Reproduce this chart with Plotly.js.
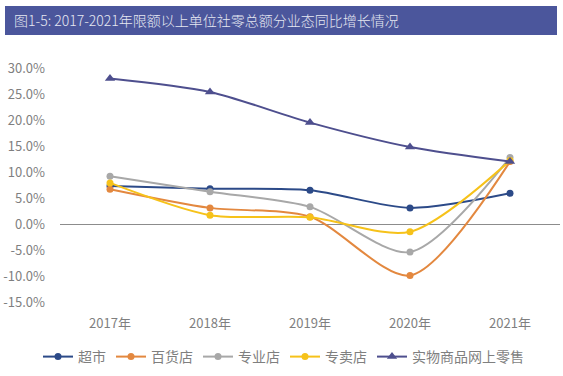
<!DOCTYPE html>
<html>
<head>
<meta charset="utf-8">
<script src="https://cdn.plot.ly/plotly-3.0.1.min.js"></script>
<style>html,body{margin:0;padding:0;background:#fff;}#chart{width:563px;height:376px;}</style>
</head>
<body>
<div id="chart"></div>
<script>
const years = ['2017年', '2018年', '2019年', '2020年', '2021年'];
const seriesNames = ['超市', '百货店', '专业店', '专卖店', '实物商品网上零售'];
const supermarket = [7.3, 6.8, 6.5, 3.1, 5.9];
const departmentStore = [6.7, 3.1, 1.4, -9.9, 12.0];
const specialtyStore = [9.2, 6.2, 3.3, -5.4, 12.8];
const exclusiveStore = [7.9, 1.7, 1.3, -1.5, 12.2];
const onlineRetail = [28.0, 25.4, 19.5, 14.8, 12.0];
const yTickVals = [-15, -10, -5, 0, 5, 10, 15, 20, 25, 30];
const yTickText = ['-15.0%', '-10.0%', '-5.0%', '0.0%', '5.0%', '10.0%', '15.0%', '20.0%', '25.0%', '30.0%'];

const colors = ['#2C4A88', '#E3883F', '#A8A8A8', '#F6C21A', '#4E4F8E'];
const symbols = ['circle', 'circle', 'circle', 'circle', 'triangle-up'];
const values = [supermarket, departmentStore, specialtyStore, exclusiveStore, onlineRetail];

const traces = values.map((v, i) => ({
  type: 'scatter',
  mode: 'lines+markers',
  name: seriesNames[i],
  x: years,
  y: v,
  line: {color: colors[i], width: 2, shape: 'spline', smoothing: 0.8},
  marker: {color: colors[i], size: i === 4 ? 9 : 7, symbol: symbols[i]}
}));

const font = '"Noto Sans CJK SC", "Noto Sans", sans-serif';
const layout = {
  width: 563, height: 376,
  margin: {l: 60, r: 3, t: 68, b: 74},
  paper_bgcolor: '#ffffff', plot_bgcolor: '#ffffff',
  font: {family: font, color: '#7f7f7f', size: 13},
  showlegend: true,
  title: {
    text: '图1-5: 2017-2021年限额以上单位社零总额分业态同比增长情况',
    font: {family: font, size: 14, color: '#e6e8f2', weight: 300},
    x: 14/563, xanchor: 'left', xref: 'container',
    y: 1 - 21/376, yanchor: 'middle', yref: 'container'
  },
  shapes: [{
    type: 'rect', xref: 'paper', yref: 'paper',
    x0: (5-60)/500, x1: (557-60)/500,
    y0: 1 + (68-35)/234, y1: 1 + (68-6)/234,
    fillcolor: '#4B569C', line: {width: 0}, layer: 'below'
  }],
  xaxis: {
    type: 'category', range: [-0.5, 4.5],
    showgrid: false, showline: false, zeroline: false, ticks: '',
    ticklabelstandoff: 12,
    tickfont: {family: font, size: 13, color: '#7f7f7f'},
    fixedrange: true
  },
  yaxis: {
    range: [-15, 30],
    tickvals: yTickVals, ticktext: yTickText,
    showgrid: false, showline: false,
    zeroline: true, zerolinecolor: '#8c8c8c', zerolinewidth: 1,
    ticks: '', ticklabelstandoff: 14,
    tickfont: {family: font, size: 13, color: '#7f7f7f'},
    fixedrange: true
  },
  legend: {
    orientation: 'h', x: (38-60)/500, xanchor: 'left',
    y: (302-357)/234, yanchor: 'middle',
    font: {family: font, size: 14, color: '#7f7f7f'},
    itemwidth: 30, tracegroupgap: 0,
    bgcolor: 'rgba(0,0,0,0)'
  }
};

Plotly.newPlot('chart', traces, layout, {displayModeBar: false, staticPlot: true});
</script>
</body>
</html>
